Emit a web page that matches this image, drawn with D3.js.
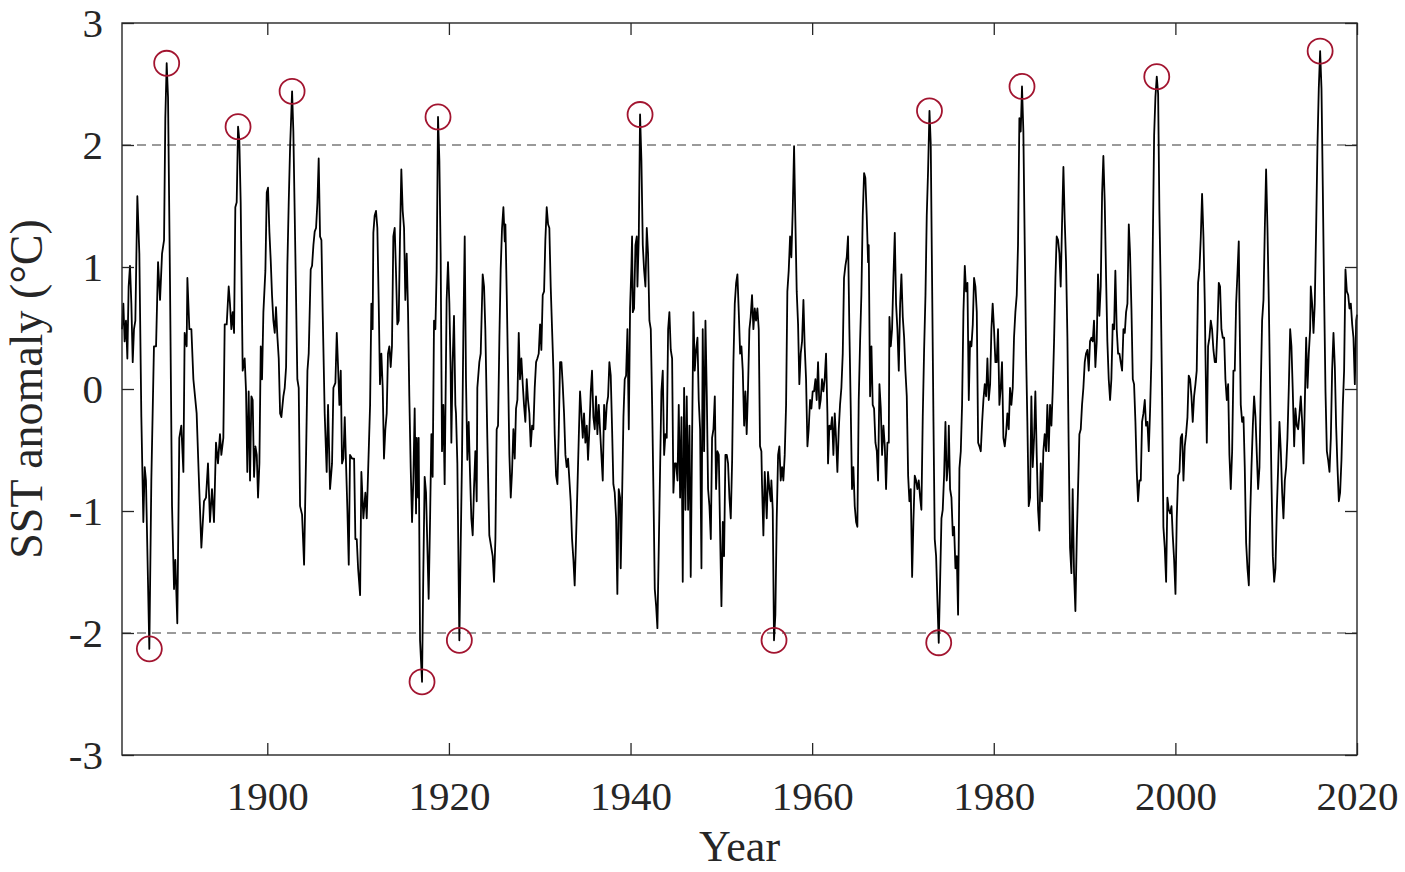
<!DOCTYPE html>
<html>
<head>
<meta charset="utf-8">
<script src="https://cdn.jsdelivr.net/npm/d3@7"></script>
<style>
  html, body { margin: 0; padding: 0; background: #fff; }
  svg { display: block; font-family: "Liberation Serif", "DejaVu Serif", serif; }
</style>
</head>
<body>
<svg width="1405" height="872"></svg>
<script>

// time axis of the anomaly trace (decimal years)
const sstYears = [
  1884.00,1884.15,1884.29,1884.44,1884.59,1884.73,1884.88,1885.03,1885.18,1885.32,
  1885.47,1885.69,1885.91,1886.13,1886.35,1886.50,1886.64,1887.01,1887.23,1887.52,
  1887.75,1887.97,1888.19,1888.41,1888.63,1888.77,1888.92,1889.07,1889.29,1889.51,
  1889.73,1889.87,1890.09,1890.31,1890.53,1890.76,1890.90,1891.12,1891.20,1891.42,
  1891.64,1891.86,1892.22,1892.44,1892.74,1893.03,1893.25,1893.47,1893.69,1893.91,
  1894.13,1894.35,1894.57,1894.79,1894.94,1895.16,1895.31,1895.53,1895.75,1895.89,
  1896.04,1896.19,1896.34,1896.48,1896.63,1896.78,1896.92,1897.07,1897.29,1897.51,
  1897.66,1897.80,
  1897.95,1898.10,1898.25,1898.39,1898.54,1898.69,1898.84,1898.98,1899.13,1899.28,
  1899.42,1899.57,1899.79,1899.94,1900.08,1900.23,1900.38,1900.52,1900.67,1900.82,
  1900.96,1901.11,1901.26,1901.41,1901.55,1901.77,1901.92,1902.07,1902.21,1902.36,
  1902.51,1902.73,1902.87,1903.09,1903.31,1903.46,1903.61,1903.83,1904.05,1904.27,
  1904.42,1904.56,1904.78,1904.93,1905.08,1905.22,1905.37,1905.52,1905.66,1905.81,
  1905.96,1906.10,1906.32,1906.54,1906.69,1906.91,1907.13,1907.28,1907.50,1907.65,
  1907.79,1907.94,1908.09,1908.23,1908.38,1908.53,1908.67,1908.82,1908.97,1909.11,
  1909.33,1909.56,1909.70,1909.85,1910.00,1910.22,1910.36,1910.58,1910.80,1910.95,
  1911.10,1911.32,1911.46,
  1911.60,1911.68,1911.82,1911.97,1912.12,1912.27,1912.41,1912.56,1912.71,1912.85,
  1913.00,1913.15,1913.29,1913.44,1913.59,1913.73,1913.88,1914.03,1914.17,1914.32,
  1914.47,1914.61,1914.76,1914.91,1915.06,1915.20,1915.35,1915.50,1915.64,1915.79,
  1915.94,1916.08,1916.23,1916.38,1916.45,1916.60,1916.67,1916.82,1917.04,1917.18,
  1917.33,1917.48,1917.63,1917.77,1917.92,1918.07,1918.21,1918.36,1918.51,1918.65,
  1918.80,1918.95,1919.09,1919.24,1919.39,1919.53,1919.68,1919.75,1919.90,1920.05,
  1920.19,1920.27,1920.41,1920.56,1920.71,1920.78,1920.93,1921.15,1921.30,1921.44,
  1921.59,1921.74,1921.88,1922.03,1922.18,1922.32,1922.47,1922.62,1922.76,1922.91,
  1923.06,1923.13,1923.35,1923.50,1923.72,1923.87,1924.01,1924.23,1924.45,
  1924.82,1924.97,1925.12,1925.26,1925.41,1925.56,1925.70,1925.85,1926.00,1926.15,
  1926.22,1926.37,1926.51,1926.66,1926.81,1926.95,1927.10,1927.25,1927.39,1927.54,
  1927.69,1927.83,1927.98,1928.13,1928.27,1928.42,1928.57,1928.71,1928.86,1929.01,
  1929.16,1929.30,1929.45,1929.60,1929.74,1929.89,1930.04,1930.18,1930.33,1930.48,
  1930.62,1930.77,1930.92,1931.06,1931.21,1931.36,1931.51,1931.65,1931.80,1931.95,
  1932.09,1932.24,1932.39,1932.53,1932.68,1932.83,1932.97,1933.12,1933.27,1933.41,
  1933.56,1933.71,1933.85,1934.00,1934.15,1934.30,1934.44,1934.59,1934.74,1934.88,
  1935.03,1935.18,1935.32,1935.47,1935.62,1935.76,1935.91,1936.06,1936.20,1936.35,
  1936.50,1936.64,1936.79,1936.94,1937.09,1937.23,1937.38,1937.53,1937.67,1937.82,
  1937.97,1938.11,1938.26,1938.41,1938.55,1938.70,1938.85,
  1938.92,1939.07,1939.22,1939.36,1939.51,1939.66,1939.81,1939.95,1940.10,1940.17,
  1940.25,1940.39,1940.54,1940.69,1940.76,1940.91,1941.05,1941.20,1941.35,1941.49,
  1941.64,1941.79,1941.93,1942.08,1942.23,1942.38,1942.52,1942.67,1942.82,1942.96,
  1943.11,1943.26,1943.40,1943.55,1943.70,1943.84,1943.99,1944.14,1944.28,1944.43,
  1944.58,1944.72,1944.87,1945.02,1945.17,1945.31,1945.46,1945.61,1945.75,1945.90,
  1946.05,1946.19,1946.34,1946.49,1946.63,1946.78,1946.93,1947.07,1947.22,1947.37,
  1947.51,1947.66,1947.81,1947.95,1948.10,1948.25,1948.40,1948.54,1948.69,1948.84,
  1948.98,1949.13,1949.28,1949.42,1949.57,1949.72,1949.86,1950.01,1950.16,1950.30,
  1950.45,1950.60,1950.74,1950.89,1951.04,1951.19,1951.33,1951.48,1951.63,1951.77,
  1951.92,1952.07,1952.21,1952.36,1952.51,
  1952.65,1952.79,1952.94,1953.09,1953.23,1953.38,1953.53,1953.68,1953.82,1953.97,
  1954.12,1954.26,1954.41,1954.48,1954.63,1954.78,1955.00,1955.14,1955.29,1955.44,
  1955.51,1955.66,1955.80,1955.95,1956.10,1956.25,1956.39,1956.54,1956.69,1956.83,
  1956.98,1957.13,1957.27,1957.42,1957.57,1957.71,1957.86,1958.01,1958.15,1958.30,
  1958.45,1958.59,1958.74,1958.89,1959.04,1959.18,1959.33,1959.48,1959.62,1959.77,
  1959.92,1960.06,1960.21,1960.36,1960.50,1960.65,1960.80,1960.94,1961.09,1961.24,
  1961.38,1961.53,1961.68,1961.75,1961.90,1962.05,1962.19,1962.34,1962.49,1962.63,
  1962.78,1962.93,1963.07,1963.22,1963.37,1963.51,1963.66,1963.81,1963.95,1964.10,
  1964.25,1964.39,1964.54,1964.69,1964.84,1964.98,1965.13,1965.28,1965.42,1965.57,
  1965.72,1965.86,1966.01,1966.16,
  1966.23,1966.38,1966.53,1966.67,1966.82,1966.97,1967.12,1967.26,1967.41,1967.56,
  1967.70,1967.85,1968.00,1968.14,1968.29,1968.44,1968.51,1968.66,1968.80,1968.95,
  1969.10,1969.24,1969.39,1969.54,1969.69,1969.83,1969.98,1970.13,1970.27,1970.42,
  1970.57,1970.71,1970.86,1971.01,1971.15,1971.30,1971.45,1971.59,1971.74,1971.89,
  1972.03,1972.18,1972.33,1972.48,1972.62,1972.77,1972.92,1973.06,1973.21,1973.36,
  1973.50,1973.65,1973.80,1973.94,1974.09,1974.24,1974.38,1974.53,1974.68,1974.82,
  1974.97,1975.05,1975.19,1975.34,1975.49,1975.63,1975.78,1975.93,1976.07,1976.22,
  1976.37,1976.51,1976.66,1976.81,1976.95,1977.10,1977.25,1977.39,1977.54,1977.69,
  1977.83,1977.98,1978.13,1978.28,1978.42,1978.57,1978.72,1978.86,1979.01,1979.16,
  1979.30,1979.45,1979.60,1979.74,
  1979.88,1980.03,1980.18,1980.32,1980.47,1980.62,1980.77,1980.91,1981.06,1981.21,
  1981.35,1981.50,1981.65,1981.79,1981.94,1982.09,1982.23,1982.38,1982.53,1982.67,
  1982.82,1982.97,1983.11,1983.26,1983.41,1983.56,1983.70,1983.85,1984.00,1984.14,
  1984.29,1984.44,1984.58,1984.73,1984.88,1985.02,1985.17,1985.32,1985.46,1985.61,
  1985.76,1985.90,1986.05,1986.20,1986.35,1986.49,1986.64,1986.79,1986.93,1987.08,
  1987.23,1987.37,1987.52,1987.67,1987.81,1987.96,1988.11,1988.25,1988.40,1988.55,
  1988.69,1988.84,1988.99,1989.14,1989.28,1989.43,1989.58,1989.72,1989.87,1990.02,
  1990.16,1990.31,1990.46,1990.60,1990.75,1990.90,1991.04,1991.19,1991.34,1991.48,
  1991.63,1991.78,1991.93,1992.07,1992.22,1992.37,1992.51,1992.66,1992.81,1992.95,
  1993.10,1993.25,1993.39,
  1993.54,1993.69,1993.84,1993.98,1994.13,1994.28,1994.43,1994.57,1994.72,1994.87,
  1995.01,1995.16,1995.31,1995.45,1995.60,1995.75,1995.89,1996.04,1996.19,1996.33,
  1996.48,1996.63,1996.77,1996.92,1997.07,1997.22,1997.36,1997.51,1997.66,1997.80,
  1997.95,1998.10,1998.24,1998.39,1998.54,1998.68,1998.83,1998.98,1999.12,1999.27,
  1999.42,1999.57,1999.71,1999.86,2000.01,2000.15,2000.30,2000.45,2000.59,2000.74,
  2000.89,2001.03,2001.18,2001.33,2001.47,2001.62,2001.77,2001.91,2002.06,2002.21,
  2002.35,2002.50,2002.65,2002.80,2002.94,2003.09,2003.24,2003.31,2003.46,2003.60,
  2003.75,2003.90,2004.04,2004.19,2004.34,2004.48,2004.63,2004.78,2004.92,2005.07,
  2005.22,2005.37,2005.51,2005.66,2005.81,2005.95,2006.10,2006.25,2006.39,2006.54,
  2006.69,2006.83,2006.98,
  2007.06,2007.20,2007.35,2007.50,2007.64,2007.79,2007.94,2008.09,2008.23,2008.38,
  2008.53,2008.67,2008.82,2008.97,2009.11,2009.26,2009.41,2009.55,2009.70,2009.85,
  2009.99,2010.14,2010.29,2010.43,2010.58,2010.73,2010.88,2011.02,2011.17,2011.32,
  2011.46,2011.61,2011.76,2011.90,2012.05,2012.20,2012.34,2012.49,2012.64,2012.78,
  2012.93,2013.08,2013.22,2013.37,2013.52,2013.67,2013.81,2013.96,2014.11,2014.25,
  2014.40,2014.55,2014.69,2014.84,2014.91,2015.06,2015.21,2015.35,2015.50,2015.65,
  2015.79,2015.94,2016.09,2016.23,2016.38,2016.53,2016.68,2016.82,2016.97,2017.12,
  2017.26,2017.41,2017.56,2017.70,2017.85,2018.00,2018.14,2018.29,2018.44,2018.58,
  2018.73,2018.88,2019.03,2019.17,2019.32,2019.47,2019.61,2019.76,2019.91,2020.00
]

// SST anomaly (deg C) at each of those times
const sstValues = [
  0.49,0.70,0.39,0.56,0.25,0.84,1.01,0.70,0.22,0.49,
  0.56,1.58,1.11,-0.23,-1.09,-0.64,-0.75,-2.13,-0.75,0.35,
  0.35,1.04,0.73,1.11,1.22,2.22,2.67,2.39,0.84,-0.96,
  -1.64,-1.40,-1.92,-0.40,-0.30,-0.68,0.46,0.35,0.91,0.49,
  0.49,0.08,-0.20,-0.68,-1.30,-0.92,-0.89,-0.61,-1.09,-0.82,
  -1.09,-0.44,-0.61,-0.37,-0.54,-0.40,0.53,0.53,0.84,0.70,
  0.49,0.63,0.46,1.49,1.53,2.15,2.04,1.53,0.15,0.25,
  -0.02,-0.68,
  -0.02,-0.75,-0.06,-0.09,-0.72,-0.47,-0.54,-0.89,-0.61,0.35,
  0.08,0.63,0.97,1.61,1.65,1.29,1.05,0.77,0.56,0.46,
  0.67,0.43,0.25,-0.20,-0.23,-0.06,0.01,0.18,1.01,1.53,
  1.98,2.44,2.11,1.11,0.08,0.01,-0.96,-1.03,-1.44,-0.54,
  0.15,0.29,0.98,1.01,1.18,1.29,1.32,1.53,1.89,1.25,
  1.22,0.63,-0.20,-0.68,-0.13,-0.82,-0.61,0.01,0.05,0.46,
  0.19,-0.13,0.15,-0.61,-0.57,-0.23,-0.61,-0.99,-1.44,-0.54,
  -0.57,-0.57,-1.23,-1.23,-1.47,-1.69,-0.68,-1.06,-0.85,-1.06,
  -0.68,-0.13,0.70,
  0.49,1.28,1.42,1.46,1.32,0.70,0.04,0.29,0.01,-0.57,
  -0.33,-0.20,0.29,0.35,0.18,0.35,1.25,1.32,0.97,0.53,
  0.56,1.22,1.80,1.46,1.32,0.73,1.11,0.63,-0.06,-0.64,
  -1.09,-0.75,-0.16,-1.02,-0.40,-0.89,-0.40,-2.06,-2.40,-1.51,
  -0.72,-0.85,-1.30,-1.72,-1.09,-0.37,-0.72,0.56,0.49,0.97,
  2.23,1.87,1.11,-0.51,-0.13,-0.78,0.25,0.73,1.04,0.70,
  0.15,-0.44,0.22,0.60,-0.13,-0.20,-0.61,-2.06,-1.27,-0.58,
  0.46,1.25,0.08,-0.58,-0.27,-0.68,-1.06,-1.20,-0.82,-0.51,
  -0.92,0.01,0.22,0.29,0.94,0.84,0.49,-0.40,-1.20,
  -1.37,-1.58,-1.23,-0.33,-0.30,0.42,0.98,1.32,1.49,1.21,
  1.35,0.77,0.15,-0.54,-0.89,-0.68,-0.33,-0.57,-0.16,-0.09,
  0.46,0.08,0.25,0.04,-0.13,-0.27,0.08,-0.09,-0.20,-0.47,
  -0.30,-0.33,0.01,0.22,0.25,0.29,0.53,0.32,0.77,0.80,
  1.22,1.49,1.35,1.32,0.84,0.49,0.15,-0.37,-0.71,-0.78,
  -0.37,0.22,0.22,0.04,-0.20,-0.54,-0.64,-0.57,-0.75,-0.92,
  -1.23,-1.40,-1.61,-1.23,-0.82,-0.40,-0.02,-0.20,-0.40,-0.20,
  -0.44,-0.30,-0.58,-0.33,-0.02,0.15,-0.23,-0.33,-0.06,-0.37,
  -0.13,-0.33,-0.54,-0.75,-0.13,-0.33,-0.13,-0.06,0.22,0.11,
  -0.33,-0.78,-0.85,-1.06,-1.68,-0.82,-0.89,
  -1.47,-0.89,-0.23,0.08,0.11,0.49,-0.33,0.66,1.01,1.25,
  0.63,0.66,1.18,1.25,0.84,1.25,2.25,1.87,1.18,0.98,
  0.84,1.32,1.11,0.56,0.49,-0.13,-0.82,-1.64,-1.78,-1.96,
  -1.30,-0.64,-0.02,0.15,-0.54,-0.37,-0.40,0.49,0.63,0.32,
  0.25,-0.85,-0.61,-0.61,-0.75,-0.13,-0.89,-0.23,-1.58,0.01,
  -0.99,-0.06,-0.99,-0.30,-1.54,-0.40,0.63,0.15,0.32,0.42,
  -0.09,-0.33,-1.47,0.49,-0.51,0.56,-0.06,-0.82,-0.96,-1.23,
  -0.40,-0.33,-0.06,-0.82,-0.51,-0.54,-1.16,-1.78,-1.09,-1.37,
  -0.54,-0.54,-0.61,-0.89,-1.06,-0.58,0.22,0.70,0.87,0.94,
  0.63,0.29,0.35,0.15,-0.30,
  -0.02,-0.37,0.01,0.49,0.59,0.77,0.49,0.66,0.56,0.66,
  0.49,-0.47,-0.51,-0.78,-1.20,-0.68,-1.06,-0.68,-0.82,-0.92,
  -0.75,-0.99,-2.06,-1.85,-1.06,-0.54,-0.47,-0.75,-0.64,-0.75,
  -0.54,-0.13,0.80,0.97,1.25,1.08,1.46,1.99,1.39,0.80,
  0.53,0.04,0.29,0.39,0.73,0.35,0.08,-0.47,-0.33,-0.09,
  -0.16,-0.02,-0.02,0.08,-0.09,0.22,-0.16,-0.09,0.08,-0.02,
  0.08,0.29,-0.20,-0.61,-0.30,-0.33,-0.23,-0.54,-0.20,-0.40,
  -0.68,-0.33,-0.13,0.01,0.29,0.91,1.01,1.08,1.25,0.49,
  -0.16,-0.82,-0.64,-0.96,-1.09,-1.13,-0.09,0.39,0.77,1.42,
  1.77,1.73,1.42,1.04,
  1.18,-0.06,0.35,-0.13,-0.16,-0.44,-0.51,-0.75,0.04,-0.16,
  -0.54,-0.30,-0.47,-0.82,-0.44,-0.44,0.59,0.35,0.49,0.91,
  1.28,0.70,0.49,0.15,0.70,0.94,0.59,0.42,0.15,-0.06,
  -0.71,-0.92,-0.82,-1.54,-1.09,-0.71,-0.75,-0.82,-0.75,-0.89,
  -0.99,-0.23,0.32,0.77,1.42,1.80,2.28,2.01,0.87,-0.27,
  -1.23,-1.37,-1.75,-2.08,-1.58,-1.06,-0.99,-0.71,-0.27,-0.75,
  -0.61,-0.30,-0.82,-0.89,-1.20,-1.13,-1.47,-1.37,-1.85,-0.65,
  -0.51,-0.13,0.63,1.01,0.80,0.87,-0.09,0.39,0.35,0.53,
  0.91,0.84,0.63,-0.44,-0.47,-0.51,-0.27,-0.09,0.04,-0.06,
  0.25,-0.09,0.04,0.49,
  0.70,0.49,0.22,0.22,0.49,-0.13,0.01,0.22,-0.40,-0.47,
  -0.37,-0.20,-0.33,0.01,-0.13,0.01,0.42,0.63,0.77,1.18,
  2.22,2.11,2.48,2.11,1.18,0.29,-0.27,-0.96,-0.89,-0.06,
  -0.64,-0.40,-0.02,-0.54,-0.99,-1.16,-0.61,-0.92,-0.51,-0.37,
  -0.51,-0.13,-0.51,-0.13,-0.30,-0.02,0.39,0.91,1.25,1.22,
  1.11,0.84,1.36,1.82,1.39,1.04,0.42,-0.47,-1.30,-1.51,
  -0.82,-1.51,-1.82,-1.23,-0.82,-0.37,-0.33,-0.13,0.01,0.22,
  0.29,0.32,0.15,0.39,0.42,0.39,0.56,0.18,0.39,0.94,
  0.60,0.84,1.60,1.91,1.53,0.91,0.39,0.08,-0.09,0.08,
  0.53,0.49,0.97,
  0.49,0.29,0.29,0.22,0.15,0.49,0.46,0.63,0.70,1.35,
  1.11,0.66,0.08,0.04,-0.27,-0.68,-0.92,-0.75,-0.75,-0.27,
  -0.20,-0.09,-0.30,-0.27,-0.51,-0.16,0.25,1.18,2.08,2.39,
  2.56,2.42,1.46,0.80,-0.06,-1.13,-1.30,-1.58,-0.89,-0.99,
  -1.02,-0.96,-1.20,-1.40,-1.68,-1.06,-0.71,-0.68,-0.40,-0.37,
  -0.75,-0.47,-0.37,-0.23,0.11,0.08,-0.06,-0.27,-0.06,0.04,
  0.15,0.87,0.98,1.25,1.60,1.25,0.70,0.29,-0.44,0.35,
  0.42,0.56,0.49,0.32,0.22,0.22,0.49,0.87,0.84,0.49,
  0.42,0.42,0.08,-0.09,0.04,-0.54,-0.82,-0.51,0.15,0.15,
  0.70,0.94,1.21,
  0.66,-0.13,-0.27,-0.23,-0.64,-1.26,-1.47,-1.61,-1.06,-0.64,
  -0.30,-0.06,-0.23,-0.54,-0.82,-0.64,0.04,0.56,0.73,1.32,
  1.80,1.32,0.70,0.01,-0.75,-1.37,-1.58,-1.47,-0.99,-0.64,
  -0.27,-0.51,-0.85,-1.06,-0.75,-0.64,-0.40,0.01,0.49,0.35,
  -0.02,-0.47,-0.16,-0.30,-0.33,-0.20,-0.06,-0.27,-0.61,-0.13,
  0.42,0.01,0.29,0.49,0.84,0.70,0.46,0.70,1.32,2.01,
  2.46,2.77,2.46,1.67,0.77,-0.02,-0.51,-0.58,-0.68,-0.40,
  0.15,0.46,0.18,-0.30,-0.64,-0.92,-0.85,-0.58,-0.13,0.15,
  0.98,0.80,0.77,0.66,0.70,0.53,0.42,0.04,0.56,0.61
]

// extreme events marked with a circle (beyond +-2 deg C)
const eventYears = [
  1887.01, 1888.92, 1896.78, 1902.73, 1917.04, 1918.80, 1921.15,
  1941.05, 1955.80, 1972.92, 1973.94, 1983.11, 1997.95, 2015.94
]

const yearTicks = [1900, 1920, 1940, 1960, 1980, 2000, 2020]
const anomalyTicks = [-3, -2, -1, 0, 1, 2, 3]
const thresholds = [-2, 2]

const svg = d3.select('svg')

const plotLeft = 122
const plotRight = 1357
const plotTop = 23
const plotBottom = 755
const axisColor = '#262626'

const scaleX = d3.scaleLinear()
  .domain([1884, 2020])
  .range([plotLeft, plotRight])

const scaleY = d3.scaleLinear()
  .domain([-3, 3])
  .range([plotBottom, plotTop])

const n = Math.min(sstYears.length, sstValues.length)
const series = d3.range(n).map(i => ({ year: sstYears[i], value: sstValues[i] }))

// dashed +-2 lines
svg.selectAll('line.threshold')
  .data(thresholds)
  .enter()
  .append('line')
  .attr('class', 'threshold')
  .attr('x1', scaleX(1884))
  .attr('x2', scaleX(2020))
  .attr('y1', d => scaleY(d))
  .attr('y2', d => scaleY(d))
  .attr('stroke', '#7a7a7a')
  .attr('stroke-width', 1.6)
  .attr('stroke-dasharray', '9,6')

// anomaly trace
const line = d3.line()
  .x(d => scaleX(d.year))
  .y(d => scaleY(d.value))

svg.append('path')
  .datum(series)
  .attr('d', line)
  .attr('fill', 'none')
  .attr('stroke', '#000')
  .attr('stroke-width', 1.8)
  .attr('stroke-linejoin', 'round')

// event markers
const events = eventYears
  .map(y => series.find(d => Math.abs(d.year - y) < 0.001))
  .filter(d => d)

svg.selectAll('circle.event')
  .data(events)
  .enter()
  .append('circle')
  .attr('class', 'event')
  .attr('cx', d => scaleX(d.year))
  .attr('cy', d => scaleY(d.value))
  .attr('r', 12.5)
  .attr('fill', 'none')
  .attr('stroke', '#a2142f')
  .attr('stroke-width', 1.8)

// axes, ticks pointing inward on all four sides
const axisB = d3.axisBottom(scaleX)
  .tickValues(yearTicks)
  .tickSizeInner(-12)
  .tickSizeOuter(0)
  .tickPadding(26)
  .tickFormat(d => String(d))

const axisT = d3.axisTop(scaleX)
  .tickValues(yearTicks)
  .tickSizeInner(-12)
  .tickSizeOuter(0)
  .tickFormat('')

const axisL = d3.axisLeft(scaleY)
  .tickValues(anomalyTicks)
  .tickSizeInner(-12)
  .tickSizeOuter(0)
  .tickPadding(19)
  .tickFormat(d => String(d))

const axisR = d3.axisRight(scaleY)
  .tickValues(anomalyTicks)
  .tickSizeInner(-12)
  .tickSizeOuter(0)
  .tickFormat('')

const groups = [
  [axisB, `translate(0, ${plotBottom})`],
  [axisT, `translate(0, ${plotTop})`],
  [axisL, `translate(${plotLeft}, 0)`],
  [axisR, `translate(${plotRight}, 0)`]
]

groups.forEach(([ax, tr]) => {
  const g = svg.append('g').attr('transform', tr).call(ax)
  g.select('.domain').remove()
  g.selectAll('line').attr('stroke', axisColor).attr('stroke-width', 1.3)
  g.selectAll('text')
    .attr('fill', axisColor)
    .style('font-family', '"Liberation Serif", "DejaVu Serif", serif')
    .style('font-size', '41px')
})

svg.append('rect')
  .attr('x', plotLeft)
  .attr('y', plotTop)
  .attr('width', plotRight - plotLeft)
  .attr('height', plotBottom - plotTop)
  .attr('fill', 'none')
  .attr('stroke', axisColor)
  .attr('stroke-width', 1.4)

// axis titles
svg.append('text')
  .attr('x', (plotLeft + plotRight) / 2)
  .attr('y', 861)
  .attr('text-anchor', 'middle')
  .attr('fill', axisColor)
  .style('font-size', '44px')
  .text('Year')

svg.append('text')
  .attr('transform', `translate(42, ${(plotTop + plotBottom) / 2}) rotate(-90)`)
  .attr('text-anchor', 'middle')
  .attr('fill', axisColor)
  .style('font-size', '46px')
  .text('SST anomaly (°C)')

</script>
</body>
</html>
